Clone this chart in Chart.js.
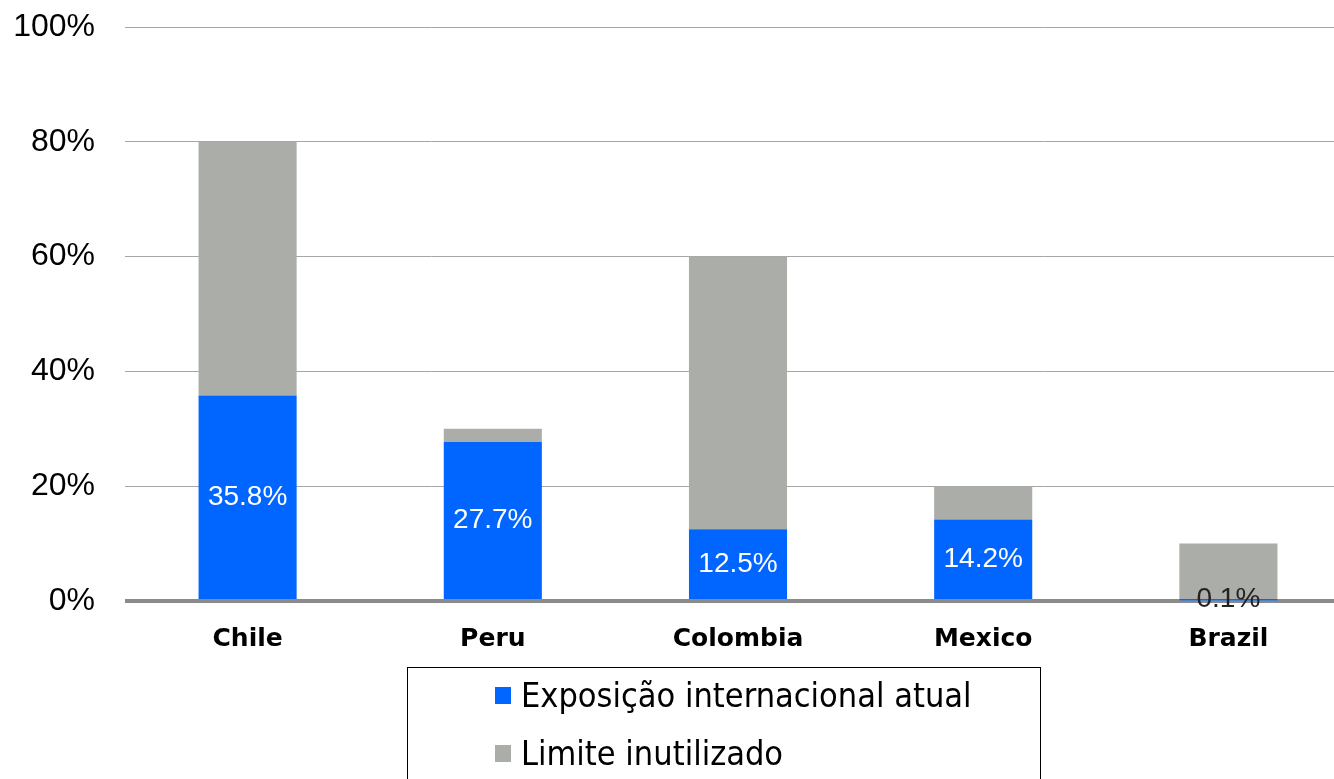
<!DOCTYPE html>
<html>
<head>
<meta charset="utf-8">
<script src="https://cdn.jsdelivr.net/npm/chart.js@4"></script>
<style>
  html, body { margin: 0; padding: 0; background: #fff; overflow: hidden; }
  #wrap { position: relative; width: 1334px; height: 779px; overflow: hidden; }
  #limitChart { position: absolute; left: 0; top: 0; }
  #legend {
    position: absolute; left: 407px; top: 667px; width: 632px; height: 140px;
    border: 1px solid #000; box-sizing: content-box;
    font-family: "DejaVu Sans Condensed", "DejaVu Sans", sans-serif; font-size: 34px; color: #000;
  }
  .item { position: absolute; left: 87px; display: flex; align-items: center; white-space: nowrap; }
  .box { width: 16px; height: 17px; margin-right: 10px; }
</style>
</head>
<body>
<div id="wrap">
  <canvas id="limitChart" width="1360" height="779"></canvas>
  <div id="legend"></div>
</div>
<script>
const categories = ['Chile', 'Peru', 'Colombia', 'Mexico', 'Brazil'];
const exposure = [35.8, 27.7, 12.5, 14.2, 0.1];   // Exposição internacional atual
const unused = [44.2, 2.3, 47.5, 5.8, 9.9];       // Limite inutilizado (limite - exposição)
const yTicks = [0, 20, 40, 60, 80, 100];

const blue = '#0066ff';
const grey = '#abada8';

// white value labels in the middle of the blue bars
const barLabels = {
    id: 'barLabels',
    afterDatasetsDraw(chart) {
        const ctx = chart.ctx;
        const meta = chart.getDatasetMeta(0);
        ctx.save();
        ctx.font = '28px "Liberation Sans", Arial, sans-serif';
        ctx.textAlign = 'center';
        ctx.textBaseline = 'middle';
        meta.data.forEach((bar, i) => {
            const v = exposure[i];
            ctx.fillStyle = v < 1 ? '#222' : '#fff';
            ctx.fillText(v.toFixed(1) + '%', bar.x, (bar.y + bar.base) / 2);
        });
        ctx.restore();
    }
};

const chart = new Chart(document.getElementById('limitChart'), {
    type: 'bar',
    data: {
        labels: categories,
        datasets: [
            { label: 'Exposição internacional atual', data: exposure, backgroundColor: blue },
            { label: 'Limite inutilizado', data: unused, backgroundColor: grey }
        ]
    },
    options: {
        responsive: false,
        animation: false,
        layout: { padding: { top: 27, right: 9, bottom: 110, left: 0 } },
        datasets: { bar: { barPercentage: 0.4, categoryPercentage: 1 } },
        plugins: { legend: { display: false }, tooltip: { enabled: false } },
        scales: {
            x: {
                stacked: true,
                grid: { display: false },
                border: { display: false },
                ticks: {
                    padding: 15,
                    color: '#000',
                    font: { family: '"DejaVu Sans", sans-serif', size: 25, weight: 'bold' }
                }
            },
            y: {
                stacked: true,
                min: 0,
                max: 100,
                afterFit(scale) {
                    scale.width = 125;
                    scale.paddingTop = 0;
                    scale.paddingBottom = 0;
                },
                afterBuildTicks(scale) { scale.ticks = yTicks.map(v => ({ value: v })); },
                border: { display: false },
                grid: {
                    drawTicks: false,
                    color: ctx => ctx.tick.value === 0 ? '#8a8a8a' : '#a6a6a6',
                    lineWidth: ctx => ctx.tick.value === 0 ? 4 : 1
                },
                ticks: {
                    padding: 30,
                    color: '#000',
                    font: { family: '"Liberation Sans", Arial, sans-serif', size: 32 },
                    callback: v => v + '%'
                }
            }
        }
    },
    plugins: [barLabels]
});

// legend box built from the chart's datasets
const legend = document.getElementById('legend');
chart.data.datasets.forEach((ds, i) => {
    const item = document.createElement('div');
    item.className = 'item';
    item.style.top = (i === 0 ? 7 : 65) + 'px';
    const sw = document.createElement('span');
    sw.className = 'box';
    sw.style.background = ds.backgroundColor;
    const txt = document.createElement('span');
    txt.textContent = ds.label;
    item.appendChild(sw);
    item.appendChild(txt);
    legend.appendChild(item);
});
</script>
</body>
</html>
